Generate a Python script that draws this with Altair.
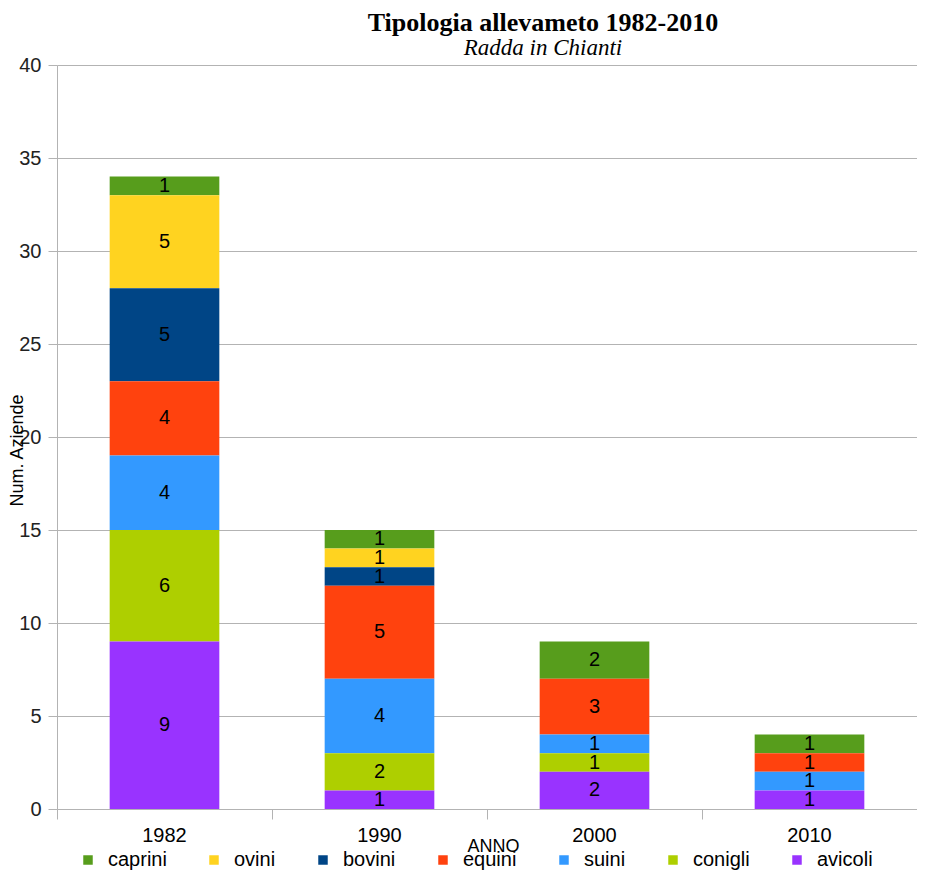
import altair as alt
import pandas as pd

anni = ["1982", "1990", "2000", "2010"]
specie = ["caprini", "ovini", "bovini", "equini", "suini", "conigli", "avicoli"]
colori = ["#579d1c", "#ffd320", "#004586", "#ff420e", "#3399ff", "#aecf00", "#9933ff"]

caprini = [1, 1, 2, 1]
ovini = [5, 1, 0, 0]
bovini = [5, 1, 0, 0]
equini = [4, 5, 3, 1]
suini = [4, 4, 1, 1]
conigli = [6, 2, 1, 0]
avicoli = [9, 1, 2, 1]

y_ticks = [0, 5, 10, 15, 20, 25, 30, 35, 40]

serie = {
    "caprini": caprini, "ovini": ovini, "bovini": bovini, "equini": equini,
    "suini": suini, "conigli": conigli, "avicoli": avicoli,
}

rows = []
for s in specie:
    ordine = len(specie) - 1 - specie.index(s)  # avicoli at the bottom
    for a, v in zip(anni, serie[s]):
        rows.append({"anno": a, "specie": s, "valore": v, "ordine": ordine})
df = pd.DataFrame(rows)

FONT = "Liberation Sans"
GRID = "#b3b3b3"

base = (
    alt.Chart(df)
    .transform_filter("datum.valore > 0")
    .transform_stack(
        stack="valore",
        groupby=["anno"],
        as_=["y0", "y1"],
        sort=[alt.SortField("ordine", order="ascending")],
    )
    .transform_calculate(ymid="(datum.y0 + datum.y1) / 2")
)

x_enc = alt.X(
    "anno:N",
    sort=anni,
    title="ANNO",
    scale=alt.Scale(paddingInner=0, paddingOuter=0),
    axis=alt.Axis(
        labelAngle=0,
        domain=False,
        bandPosition=0,
        tickExtra=False,
        tickSize=10,
        tickColor=GRID,
        labelFont=FONT,
        labelFontSize=20,
        labelColor="black",
        labelPadding=6,
        titleFont=FONT,
        titleFontSize=18,
        titleFontWeight="normal",
        titleColor="black",
        titleX=436,
        titleY=37,
        titleBaseline="middle",
        titleAlign="center",
    ),
)

bars = base.mark_bar(width=alt.RelativeBandSize(0.51)).encode(
    x=x_enc,
    y=alt.Y(
        "y0:Q",
        scale=alt.Scale(domain=[0, 40], nice=False),
        axis=alt.Axis(
            values=y_ticks,
            title="Num. Aziende",
            tickSize=9,
            tickColor=GRID,
            domainColor=GRID,
            gridColor=GRID,
            labelFont=FONT,
            labelFontSize=20,
            labelColor="#222222",
            labelPadding=7,
            titleFont=FONT,
            titleFontSize=18,
            titleFontWeight="normal",
            titleColor="black",
            titleX=-40,
            titleY=385,
            titleAlign="center",
            titleBaseline="middle",
        ),
    ),
    y2="y1:Q",
    color=alt.Color(
        "specie:N",
        scale=alt.Scale(domain=specie, range=colori),
        legend=alt.Legend(
            title=None,
            orient="none",
            legendX=21,
            legendY=785,
            direction="horizontal",
            columns=7,
            symbolType="square",
            symbolSize=90,
            symbolStrokeWidth=0,
            labelFont=FONT,
            labelFontSize=20,
            labelColor="black",
            labelOffset=10,
            columnPadding=37,
            padding=0,
        ),
    ),
)

labels = base.mark_text(
    baseline="middle", align="center", font=FONT, fontSize=20, color="black"
).encode(
    x=alt.X("anno:N", sort=anni),
    y=alt.Y("ymid:Q"),
    text=alt.Text("valore:Q"),
)

chart = (
    alt.layer(bars, labels)
    .properties(
        width=860,
        height=744,
        padding={"left": 0, "top": 2, "right": 0, "bottom": 0},
        title=alt.TitleParams(
            text="Tipologia allevameto 1982-2010",
            subtitle="Radda in Chianti",
            anchor="middle",
            frame="group",
            dx=56,
            offset=-5,
            subtitlePadding=1,
            font="Liberation Serif",
            fontSize=26,
            fontWeight="bold",
            color="black",
            subtitleFont="Liberation Serif",
            subtitleFontSize=23,
            subtitleFontStyle="italic",
            subtitleColor="black",
        ),
    )
    .configure_view(strokeWidth=0)
)

chart.save("out.html", embed_options={"renderer": "svg", "actions": False})
